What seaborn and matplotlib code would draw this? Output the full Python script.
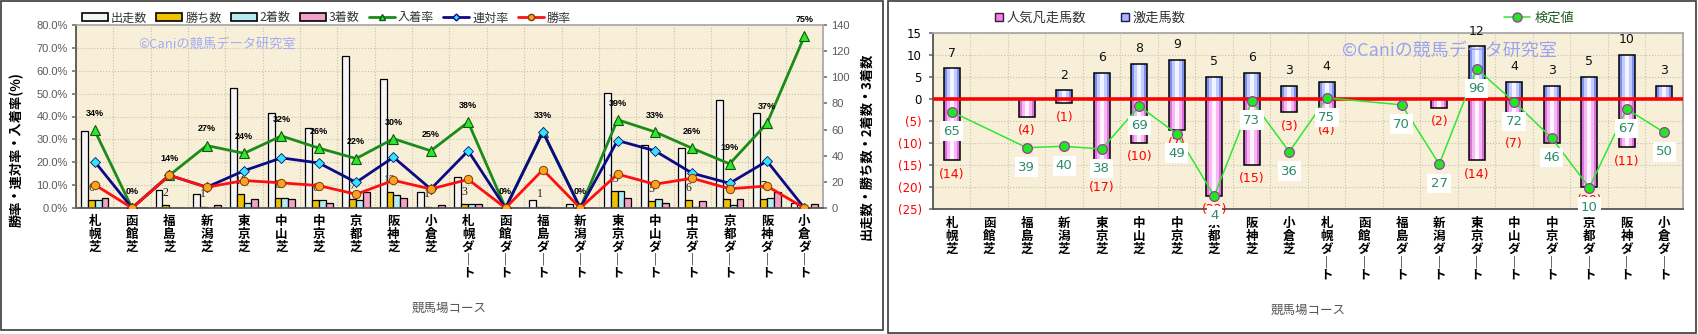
import numpy as np
import pandas as pd
import matplotlib
matplotlib.use("Agg")
import matplotlib.pyplot as plt
import seaborn as sns
from matplotlib.lines import Line2D
from matplotlib.patches import Patch, Rectangle
from matplotlib.ticker import FixedLocator

# ---------------- data ----------------
courses = ["札幌芝", "函館芝", "福島芝", "新潟芝", "東京芝", "中山芝", "中京芝", "京都芝", "阪神芝", "小倉芝",
           "札幌ダート", "函館ダート", "福島ダート", "新潟ダート", "東京ダート", "中山ダート", "中京ダート",
           "京都ダート", "阪神ダート", "小倉ダート"]

starts = [59, 0, 14, 11, 92, 73, 61, 116, 99, 12, 24, 0, 6, 3, 88, 48, 46, 83, 73, 4]
wins = [6, 0, 2, 1, 11, 8, 6, 7, 12, 1, 3, 0, 1, 0, 13, 5, 6, 7, 7, 0]
seconds = [6, 0, 0, 0, 4, 8, 6, 6, 10, 0, 3, 0, 1, 0, 13, 7, 1, 2, 8, 0]
thirds = [8, 0, 0, 2, 7, 7, 4, 12, 8, 2, 3, 0, 0, 0, 8, 4, 5, 7, 12, 3]

place_rate = [33.9, 0, 14.3, 27.3, 23.9, 31.5, 26.2, 21.6, 30.3, 25.0,
              37.5, 0, 33.3, 0, 38.6, 33.3, 26.1, 19.3, 37.0, 75.0]
quinella_rate = [20.3, 0, 14.3, 9.1, 16.3, 21.9, 19.7, 11.2, 22.2, 8.3,
                 25.0, 0, 33.3, 0, 29.5, 25.0, 15.2, 10.8, 20.5, 0]
win_rate = [10.2, 0, 14.3, 9.1, 12.0, 11.0, 9.8, 6.0, 12.1, 8.3,
            12.5, 0, 16.7, 0, 14.8, 10.4, 13.0, 8.4, 9.6, 0]

surge = [7, 0, 0, 2, 6, 8, 9, 5, 6, 3, 4, 0, 0, 0, 12, 4, 3, 5, 10, 3]
flop = [14, 0, 4, 1, 17, 10, 7, 22, 15, 3, 4, 0, 0, 2, 14, 7, 10, 20, 11, 0]
score = [65, np.nan, 39, 40, 38, 69, 49, 4, 73, 36, 75, np.nan, 70, 27, 96, 72, 46, 10, 67, 50]

count_kinds = ["出走数", "勝ち数", "2着数", "3着数"]
count_colors = ["#f5f5f5", "#f2c200", "#b4ecf0", "#f4a0c8"]

# ---------------- style ----------------
sns.set_theme(style="white")
plt.rcParams["font.family"] = ["Noto Sans CJK JP", "DejaVu Sans"]
plt.rcParams["axes.unicode_minus"] = False

W, H = 1699, 334
fig = plt.figure(figsize=(W / 100, H / 100), dpi=100)
fig.patch.set_facecolor("white")


def fx(px):
    return px / W


def fy(py):
    return 1 - py / H


def vertical(name):
    return "\n".join("｜" if c == "ー" else c for c in name)


vlabels = [vertical(c) for c in courses]
pos = np.arange(len(courses))
bg = "#f8efd9"
gridc = "#c9bfae"

# panel frames
fig.patches.append(Rectangle((fx(1), fy(330)), fx(882), 329 / H, transform=fig.transFigure,
                             fill=False, edgecolor="#3a3a3a", lw=1.2, zorder=0))
fig.patches.append(Rectangle((fx(888), fy(333)), fx(808), 332 / H, transform=fig.transFigure,
                             fill=False, edgecolor="#3a3a3a", lw=1.2, zorder=0))

# ================= LEFT CHART =================
axL = fig.add_axes([fx(76), fy(208), fx(747), 183 / H])
axL.set_facecolor(bg)
count_df = pd.DataFrame({
    "course": courses * 4,
    "kind": sum([[k] * len(courses) for k in count_kinds], []),
    "value": starts + wins + seconds + thirds,
})
sns.barplot(data=count_df, x="course", y="value", hue="kind", order=courses, hue_order=count_kinds,
            palette=count_colors, saturation=1, width=0.74, edgecolor="black", linewidth=0.9,
            errorbar=None, legend=False, ax=axL)
axR = axL.twinx()

axL.set_xlim(-0.5, len(courses) - 0.5)
axL.set_ylim(0, 140)
axL.set_yticks(np.arange(0, 141, 20))
axL.yaxis.tick_right()
axL.set_xlabel("")
axL.set_ylabel("")
axL.set_xticks(pos)
axL.set_xticklabels(vlabels, fontsize=9, fontweight="bold", linespacing=1.0, color="black")
axL.tick_params(axis="x", length=0, pad=5)
axL.tick_params(axis="y", which="major", right=True, left=False, length=3, color="#777777",
                labelsize=8, labelcolor="#5a5a5a", pad=3)
for t in axL.get_yticklabels():
    t.set_family("Liberation Sans")
axL.yaxis.set_minor_locator(FixedLocator(np.arange(0, 141, 17.5)))
axL.xaxis.set_minor_locator(FixedLocator(np.arange(-0.5, len(courses), 1)))
axL.tick_params(which="minor", length=0)
axL.grid(False, which="major")
axL.grid(True, which="minor", ls=":", lw=0.8, color=gridc)
axL.set_axisbelow(True)
for s in ["left", "bottom"]:
    axL.spines[s].set_color("#555555")
    axL.spines[s].set_linewidth(1.3)
for s in ["top", "right"]:
    axL.spines[s].set_color("#aaaaaa")
    axL.spines[s].set_linewidth(1.3)

# win count labels over the win bars
win_bars = axL.containers[1]
for bar, w in zip(win_bars, wins):
    if w > 0:
        axL.annotate(str(w), (bar.get_x() + bar.get_width() / 2, w), xytext=(0, 9),
                     textcoords="offset points", ha="center", va="center", fontsize=8.5,
                     family="Liberation Serif", color="#222222")

# rate lines
rate_df = pd.DataFrame({"pos": pos, "place": place_rate, "quinella": quinella_rate, "win": win_rate})
sns.lineplot(data=rate_df, x="pos", y="place", color="#1a8c1a", lw=2.0, marker="^", markersize=7.5,
             markerfacecolor="#2ee62e", markeredgecolor="#0d5a0d", markeredgewidth=0.8, ax=axR, zorder=3)
sns.lineplot(data=rate_df, x="pos", y="quinella", color="#0b0b84", lw=2.0, marker="D", markersize=5,
             markerfacecolor="#33e6f7", markeredgecolor="#0b0b84", markeredgewidth=0.6, ax=axR, zorder=4)
sns.lineplot(data=rate_df, x="pos", y="win", color="#ff1010", lw=2.0, marker="o", markersize=6,
             markerfacecolor="#ffa020", markeredgecolor="#7a4000", markeredgewidth=0.7, ax=axR, zorder=5)
axR.set_ylim(0, 80)
axR.set_yticks(np.arange(0, 81, 10))
axR.set_yticklabels([f"{v:.1f}%" for v in np.arange(0, 81, 10)])
axR.yaxis.tick_left()
axR.tick_params(axis="y", left=True, right=False, length=3, color="#777777", labelsize=8,
                labelcolor="#5a5a5a", pad=3)
for t in axR.get_yticklabels():
    t.set_family("Liberation Sans")
axR.set_xlabel("")
axR.set_ylabel("")
for s in axR.spines.values():
    s.set_visible(False)
for i, v in enumerate(place_rate):
    axR.annotate(f"{v:.0f}%", (i, v), xytext=(0, 12), textcoords="offset points", ha="center",
                 va="center", fontsize=6.5, fontweight="bold", family="Liberation Sans",
                 color="black", annotation_clip=False, zorder=6)

fig.text(fx(138), fy(44), "©Caniの競馬データ研究室", fontsize=9.5, color="#a3abf3", ha="left", va="center")
fig.text(fx(17), fy(150), "勝率・連対率・入着率(%)", rotation=90, ha="center", va="center",
         fontsize=9.5, fontweight="bold", color="black")
fig.text(fx(866), fy(146), "出走数・勝ち数・2着数・3着数", rotation=90, ha="center", va="center",
         fontsize=9.5, fontweight="bold", color="black")
fig.text(fx(449), fy(308), "競馬場コース", ha="center", va="center", fontsize=9, color="#555555")

handlesL = [Patch(facecolor=c, edgecolor="black", lw=1.2) for c in count_colors] + [
    Line2D([], [], color="#1a8c1a", lw=2, marker="^", ms=5, mfc="#2ee62e", mec="#0d5a0d"),
    Line2D([], [], color="#0b0b84", lw=2, marker="D", ms=3.5, mfc="#33e6f7", mec="#0b0b84"),
    Line2D([], [], color="#ff1010", lw=2, marker="o", ms=4.5, mfc="#ffa020", mec="#7a4000"),
]
labelsL = count_kinds + ["入着率", "連対率", "勝率"]
legL = fig.legend(handlesL, labelsL, loc="center left", bbox_to_anchor=(fx(82), fy(18)), ncol=7,
                  frameon=False, fontsize=8.7, handlelength=2.15, handleheight=0.6, handletextpad=0.25,
                  columnspacing=0.75, borderpad=0, borderaxespad=0)
for t in legL.get_texts():
    t.set_color("#333333")

# ================= RIGHT CHART =================
axB = fig.add_axes([fx(933), fy(208.7), fx(750), 175.4 / H])
axB.set_facecolor(bg)
rb_df = pd.DataFrame({"course": courses, "surge": surge, "flop": [-v for v in flop]})
layers = [
    ("flop", ["#e070de", "#f7b9f3", "#fff3ff"]),
    ("surge", ["#7d8ff0", "#c3ccff", "#f2f4ff"]),
]
for col, shades in layers:
    for shade, wdt in zip(shades, [0.43, 0.27, 0.11]):
        sns.barplot(data=rb_df, x="course", y=col, order=courses, color=shade, saturation=1,
                    width=wdt, linewidth=0, errorbar=None, ax=axB)
    sns.barplot(data=rb_df, x="course", y=col, order=courses, color="black", fill=False,
                width=0.43, linewidth=1.1, errorbar=None, ax=axB)
axB.axhline(0, color="#ff0000", lw=2.6, zorder=3)
axB.set_xlim(-0.5, len(courses) - 0.5)
axB.set_ylim(-25, 15)
yt = np.arange(-25, 16, 5)
axB.set_yticks(yt)
axB.set_yticklabels([str(v) if v >= 0 else f"({-v})" for v in yt])
for t, v in zip(axB.get_yticklabels(), yt):
    t.set_color("black" if v >= 0 else "#ff0000")
    t.set_family("DejaVu Sans")
axB.tick_params(axis="y", left=True, length=3, color="#777777", labelsize=8.5, pad=5)
axB.set_xlabel("")
axB.set_ylabel("")
axB.set_xticks(pos)
axB.set_xticklabels(vlabels, fontsize=9, fontweight="bold", linespacing=1.0, color="black")
axB.tick_params(axis="x", length=0, pad=6)
axB.xaxis.set_minor_locator(FixedLocator(np.arange(-0.5, len(courses), 1)))
axB.tick_params(which="minor", length=0)
axB.grid(True, which="major", axis="y", ls=":", lw=0.8, color=gridc)
axB.grid(True, which="minor", axis="x", ls=":", lw=0.8, color=gridc)
axB.set_axisbelow(True)
for s in ["left", "bottom"]:
    axB.spines[s].set_color("#555555")
    axB.spines[s].set_linewidth(1.3)
for s in ["top", "right"]:
    axB.spines[s].set_color("#a8a8a8")
    axB.spines[s].set_linewidth(1.3)

for i, v in enumerate(surge):
    if v > 0:
        axB.annotate(str(v), (i, v), xytext=(0, 11), textcoords="offset points", ha="center",
                     va="center", fontsize=9, family="DejaVu Sans", color="#111111", annotation_clip=False)
for i, v in enumerate(flop):
    if v > 0:
        axB.annotate(f"({v})", (i, -v), xytext=(0, -10), textcoords="offset points", ha="center",
                     va="center", fontsize=9, family="DejaVu Sans", color="#ff0000", annotation_clip=False)

axS = axB.twinx()
score_df = pd.DataFrame({"pos": pos, "score": score}).dropna()
sns.lineplot(data=score_df, x="pos", y="score", color="#2ee82e", lw=1.1, marker="o", markersize=7,
             markerfacecolor="#22e622", markeredgecolor="#9a3aa0", markeredgewidth=0.9, ax=axS, zorder=5)
axS.set_ylim(-5.2, 121.8)
axS.set_yticks([])
axS.set_ylabel("")
axS.set_xlabel("")
for s in axS.spines.values():
    s.set_visible(False)
for p, v in zip(score_df["pos"], score_df["score"]):
    axS.annotate(f"{v:.0f}", (p, v), xytext=(0, -14), textcoords="offset points", ha="center",
                 va="center", fontsize=9.5, family="DejaVu Sans", color="#2e8b66", zorder=7,
                 annotation_clip=False,
                 bbox=dict(boxstyle="square,pad=0.25", facecolor="white", edgecolor="none"))

fig.text(fx(1342), fy(51), "©Caniの競馬データ研究室", fontsize=13, color="#8f9cf2", ha="left",
         va="center", alpha=0.9)
fig.text(fx(1308), fy(310), "競馬場コース", ha="center", va="center", fontsize=9, color="#555555")

handlesR = [Line2D([], [], marker="s", ls="none", ms=5.5, mfc="#f080ee", mec="#3a1a3a", mew=1),
            Line2D([], [], marker="s", ls="none", ms=5.5, mfc="#a8b4ff", mec="#1a1a4a", mew=1)]
legR = fig.legend(handlesR, ["人気凡走馬数", "激走馬数"], loc="center left", bbox_to_anchor=(fx(995), fy(18)),
                  ncol=2, frameon=False, fontsize=9.5, handlelength=0.6, handletextpad=0.3,
                  columnspacing=2.6, borderpad=0, borderaxespad=0)
for t in legR.get_texts():
    t.set_color("#333333")
handlesS = [Line2D([], [], color="#2ee82e", lw=1.1, marker="o", ms=6.5, mfc="#22e622", mec="#9a3aa0")]
legS = fig.legend(handlesS, ["検定値"], loc="center left", bbox_to_anchor=(fx(1504), fy(18)),
                  frameon=False, fontsize=9.5, handlelength=2.0, handletextpad=0.3,
                  borderpad=0, borderaxespad=0)
for t in legS.get_texts():
    t.set_color("#1f5a22")

fig.savefig("out.png", dpi=100)
